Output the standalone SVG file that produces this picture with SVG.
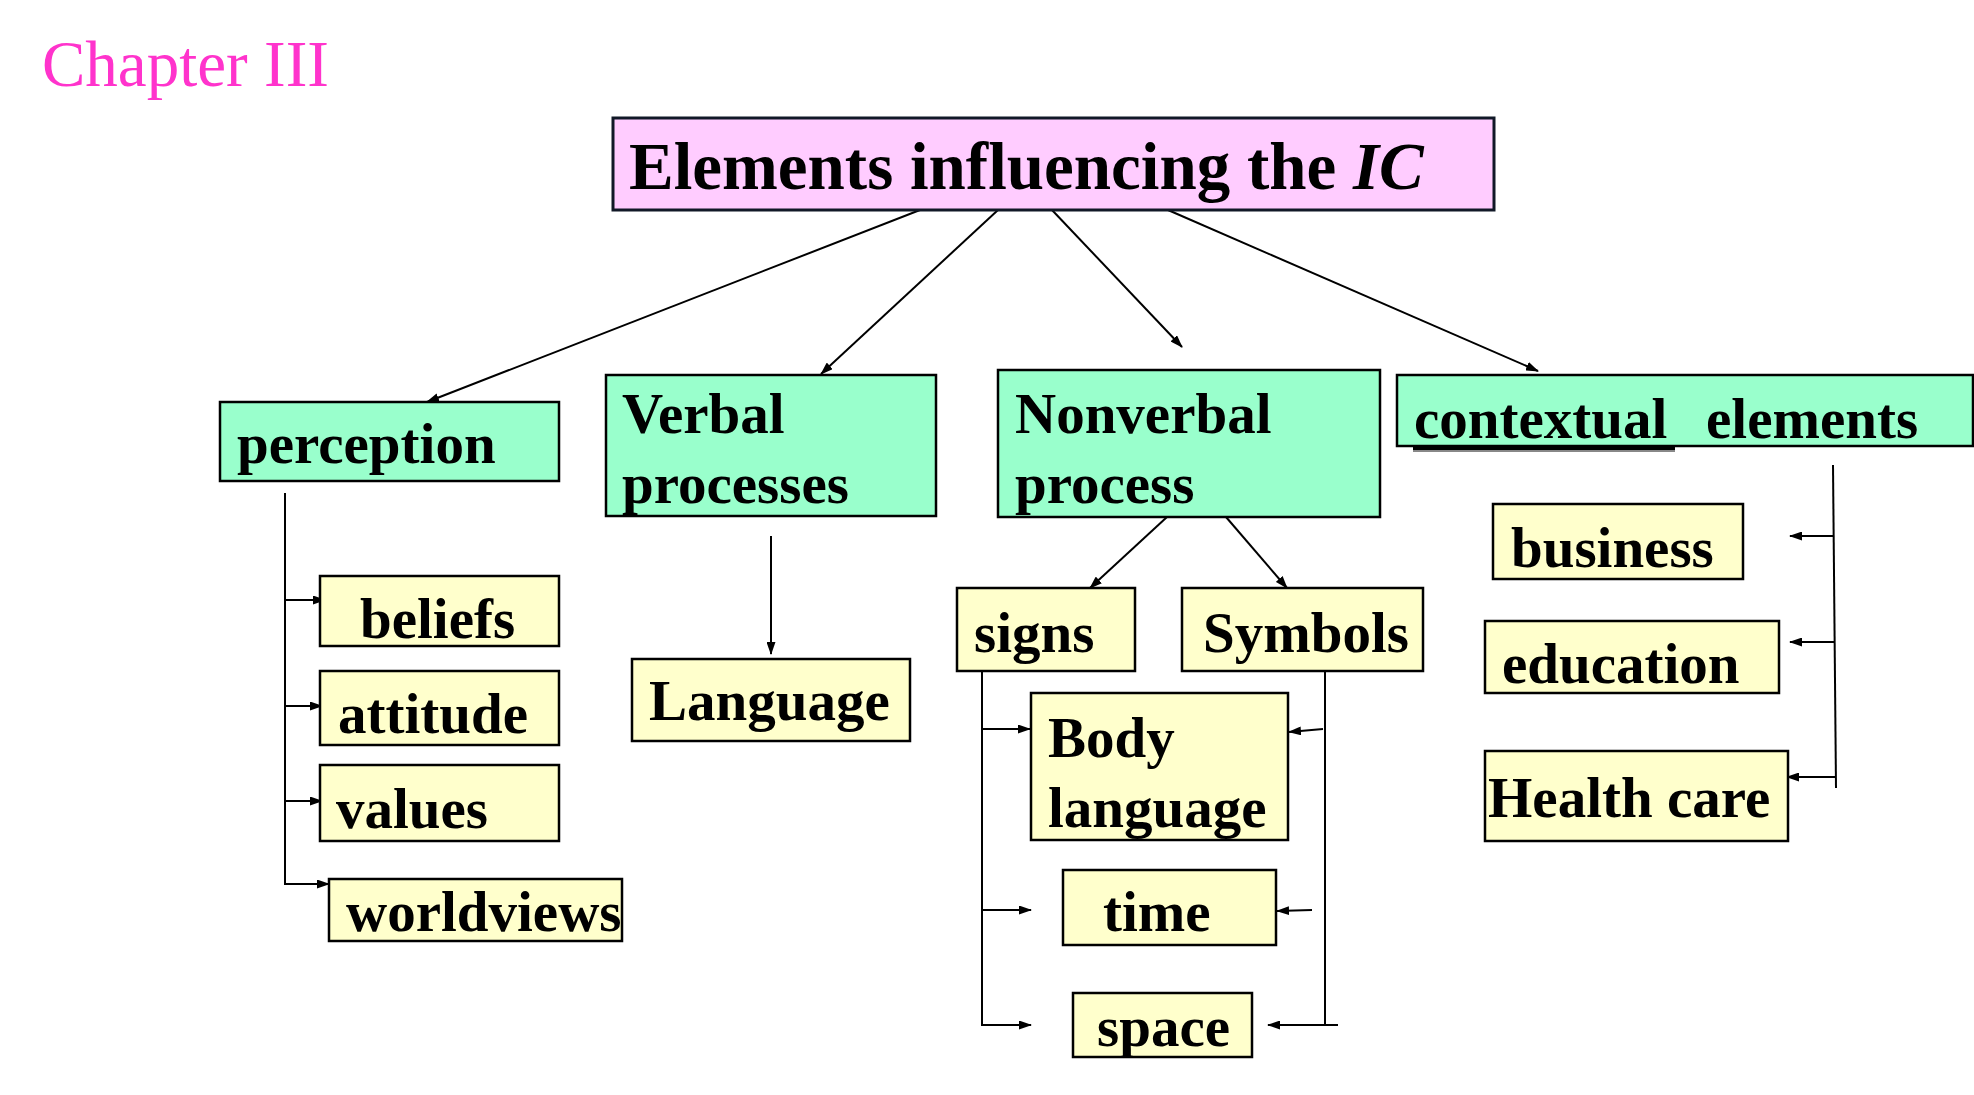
<svg xmlns="http://www.w3.org/2000/svg" width="1974" height="1095" viewBox="0 0 1974 1095">
<style>
  .t { font-family: "Liberation Serif", "Times New Roman", serif; font-weight: bold; font-size: 57px; fill: #000; }
  .ch { font-family: "Liberation Serif", "Times New Roman", serif; font-size: 65px; fill: #FF33CC; }
  .g { fill: #99FFCC; stroke: #000; stroke-width: 2.5; }
  .y { fill: #FFFFCC; stroke: #000; stroke-width: 2.5; }
  .c { fill: none; stroke: #000; stroke-width: 2; }
  .a { fill: none; stroke: #000; stroke-width: 2; marker-end: url(#ah); }
</style>
<defs>
  <marker id="ah" viewBox="0 0 13 9" refX="12" refY="4.5" markerWidth="13" markerHeight="9" markerUnits="userSpaceOnUse" orient="auto">
    <path d="M0,0 L13,4.5 L0,9 Z" fill="#000"/>
  </marker>
</defs>
<rect width="1974" height="1095" fill="#fff"/>

<g id="chapter">
  <text class="ch" x="42" y="86">Chapter III</text>
</g>

<g id="connectors">
  <!-- from title -->
  <line class="a" x1="920" y1="210" x2="427" y2="402"/>
  <line class="a" x1="998" y1="210" x2="821" y2="374"/>
  <line class="a" x1="1052" y1="210" x2="1182" y2="347"/>
  <line class="a" x1="1168" y1="210" x2="1538" y2="371"/>
  <!-- perception -->
  <line class="c" x1="285" y1="493" x2="285" y2="884"/>
  <line class="a" x1="285" y1="600" x2="325" y2="600"/>
  <line class="a" x1="285" y1="706" x2="322" y2="706"/>
  <line class="a" x1="285" y1="801" x2="322" y2="801"/>
  <line class="a" x1="284" y1="884" x2="329" y2="884"/>
  <!-- verbal -->
  <line class="a" x1="771" y1="536" x2="771" y2="654"/>
  <!-- nonverbal -->
  <line class="a" x1="1167" y1="517" x2="1090" y2="588"/>
  <line class="a" x1="1226" y1="517" x2="1287" y2="588"/>
  <!-- signs -->
  <line class="c" x1="982" y1="660" x2="982" y2="1025"/>
  <line class="a" x1="982" y1="729" x2="1030" y2="729"/>
  <line class="a" x1="982" y1="910" x2="1031" y2="910"/>
  <line class="a" x1="981" y1="1025" x2="1031" y2="1025"/>
  <!-- symbols -->
  <line class="c" x1="1325" y1="671" x2="1325" y2="1025"/>
  <line class="a" x1="1323" y1="729" x2="1289" y2="732"/>
  <line class="a" x1="1312" y1="910" x2="1277" y2="911"/>
  <line class="a" x1="1338" y1="1025" x2="1268" y2="1025"/>
  <!-- contextual -->
  <line class="c" x1="1833" y1="465" x2="1836" y2="788"/>
  <line class="a" x1="1834" y1="536" x2="1790" y2="536"/>
  <line class="a" x1="1834" y1="642" x2="1790" y2="642"/>
  <line class="a" x1="1835" y1="777" x2="1787" y2="777"/>
</g>

<g id="title">
  <rect x="613" y="118" width="881" height="92" fill="#FFCCFF" stroke="#111827" stroke-width="3"/>
  <text class="t" x="629" y="189" style="font-size:67px">Elements influencing the <tspan font-style="italic">IC</tspan></text>
</g>

<g id="perception">
  <rect class="g" x="220" y="402" width="339" height="79"/>
  <text class="t" x="237" y="463">perception</text>
</g>
<g id="verbal">
  <rect class="g" x="606" y="375" width="330" height="141"/>
  <text class="t" x="622" y="433">Verbal</text>
  <text class="t" x="622" y="503">processes</text>
</g>
<g id="nonverbal">
  <rect class="g" x="998" y="370" width="382" height="147"/>
  <text class="t" x="1015" y="433">Nonverbal</text>
  <text class="t" x="1015" y="503">process</text>
</g>
<g id="contextual">
  <rect class="g" x="1397" y="375" width="576" height="71"/>
  <text class="t" x="1414" y="438">contextual<tspan x="1706">elements</tspan></text>
  <line x1="1413" y1="451" x2="1675" y2="451" stroke="#888" stroke-width="2"/>
  <line x1="1413" y1="448.5" x2="1675" y2="448.5" stroke="#000" stroke-width="3"/>
</g>

<g id="beliefs">
  <rect class="y" x="320" y="576" width="239" height="70"/>
  <text class="t" x="360" y="638">beliefs</text>
</g>
<g id="attitude">
  <rect class="y" x="320" y="671" width="239" height="74"/>
  <text class="t" x="338" y="733">attitude</text>
</g>
<g id="values">
  <rect class="y" x="320" y="765" width="239" height="76"/>
  <text class="t" x="336" y="828">values</text>
</g>
<g id="worldviews">
  <rect class="y" x="329" y="879" width="293" height="62"/>
  <text class="t" x="346" y="931">worldviews</text>
</g>

<g id="language">
  <rect class="y" x="632" y="659" width="278" height="82"/>
  <text class="t" x="649" y="720">Language</text>
</g>

<g id="signs">
  <rect class="y" x="957" y="588" width="178" height="83"/>
  <text class="t" x="974" y="652">signs</text>
</g>
<g id="symbols">
  <rect class="y" x="1182" y="588" width="241" height="83"/>
  <text class="t" x="1203" y="652">Symbols</text>
</g>
<g id="body-language">
  <rect class="y" x="1031" y="693" width="257" height="147"/>
  <text class="t" x="1048" y="757">Body</text>
  <text class="t" x="1048" y="827">language</text>
</g>
<g id="time">
  <rect class="y" x="1063" y="870" width="213" height="75"/>
  <text class="t" x="1103" y="931">time</text>
</g>
<g id="space">
  <rect class="y" x="1073" y="993" width="179" height="64"/>
  <text class="t" x="1097" y="1046">space</text>
</g>

<g id="business">
  <rect class="y" x="1493" y="504" width="250" height="75"/>
  <text class="t" x="1511" y="567">business</text>
</g>
<g id="education">
  <rect class="y" x="1485" y="621" width="294" height="72"/>
  <text class="t" x="1502" y="683">education</text>
</g>
<g id="health-care">
  <rect class="y" x="1485" y="751" width="303" height="90"/>
  <text class="t" x="1488" y="817">Health care</text>
</g>
</svg>
